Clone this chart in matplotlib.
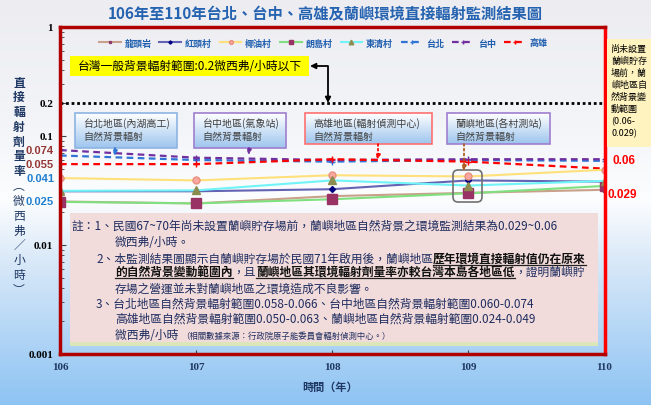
import numpy as np
import matplotlib
matplotlib.use('Agg')
import matplotlib.pyplot as plt
from matplotlib.patches import Rectangle, FancyBboxPatch
from matplotlib.colors import to_rgb

plt.rcParams['font.family'] = ['Noto Sans CJK TC', 'DejaVu Sans']

# ---- data ----
years = [106, 107, 108, 109, 110]
longtouyan = [0.025, 0.024, 0.028, 0.030, 0.032]
hongtou = [0.031, 0.031, 0.0324, 0.039, 0.038]
yeyou = [0.041, 0.039, 0.0435, 0.0424, 0.0488]
langdao = [0.0248, 0.024, 0.0262, 0.0297, 0.0347]
dongqing = [0.0313, 0.0316, 0.039, 0.035, 0.0386]
taipei = [0.066, 0.060, 0.058, 0.060, 0.059]
taichung = [0.074, 0.063, 0.060, 0.061, 0.061]
kaohsiung = [0.055, 0.055, 0.061, 0.058, 0.050]
village_names = ['龍頭岩', '紅頭村', '椰油村', '朗島村', '東清村']
city_names = ['台北', '台中', '高雄']
y_ticks = [0.001, 0.01, 0.1, 0.2, 1]
y_ticklabels = ['0.001', '0.01', '0.1', '0.2', '1']
range_marks = [0.074, 0.055, 0.041, 0.025]
range_labels = ['0.074', '0.055', '0.041', '0.025']
lanyu_range = [0.06, 0.029]
lanyu_labels = ['0.06', '0.029']
bg_level = 0.2

W, H = 651, 406
fig = plt.figure(figsize=(W / 100, H / 100), dpi=100)


def vgrad(stops, colors, n):
    ys = np.arange(n)
    rgb = np.array([to_rgb(c) for c in colors])
    g = np.zeros((n, 1, 3))
    for k in range(3):
        g[:, 0, k] = np.interp(ys, stops, rgb[:, k])
    return g


# background gradient (pixel coords, y down)
bg = fig.add_axes([0, 0, 1, 1], zorder=0)
bg.set_autoscale_on(False)
bg.set_xlim(0, W)
bg.set_ylim(H, 0)
bg.axis('off')
bg.imshow(vgrad([0, 120, 200, 260, H], ['#ECECF1', '#F3F4F8', '#FCFDFE', '#DAE9F8', '#8DC3F3'], H),
          extent=[0, W, H, 0], aspect='auto')

# ---- main chart ----
ax = fig.add_axes([60 / W, 1 - 355 / H, 544.5 / W, 327.3 / H], zorder=1)
ax.patch.set_alpha(0)
ax.set_yscale('log')

ref_style = dict(ls=(0, (3, 2)), lw=1.6, marker='+', ms=4)
h_tp, = ax.plot(years, taipei, color='#2E75D6', label=city_names[0], **ref_style)
h_tc, = ax.plot(years, taichung, color='#7030A0', label=city_names[1], **ref_style)
h_ks, = ax.plot(years, kaohsiung, color='#FF0000', label=city_names[2], **ref_style)

h1, = ax.plot(years, longtouyan, color='#C9A08A', lw=1.5, marker='s', ms=2.5,
              mfc='#8B3A6A', mec='#8B3A6A', label=village_names[0])
h2, = ax.plot(years, hongtou, color='#6464B4', lw=1.5, marker='D', ms=3,
              mfc='#000080', mec='#000080', label=village_names[1])
h3, = ax.plot(years, yeyou, color='#FFE07A', lw=1.5, marker='o', ms=5,
              mfc='#F8A8A0', mec='#E89080', label=village_names[2])
h4, = ax.plot(years, langdao, color='#80E080', lw=1.5, marker='s', ms=6.5,
              mfc='#993366', mec='#993366', label=village_names[3])
h5, = ax.plot(years, dongqing, color='#70F4F8', lw=1.5, marker='^', ms=6,
              mfc='#8C8C50', mec='#8C8C50', label=village_names[4])

ax.axhline(bg_level, color='black', ls=(0, (1, 1)), lw=2)

ax.set_xlim(106, 110)
ax.set_ylim(0.001, 1)
for side in ['left', 'top', 'bottom']:
    ax.spines[side].set_color('#B00000')
    ax.spines[side].set_linewidth(2.5)
ax.spines['right'].set_color('#FF0000')
ax.spines['right'].set_linewidth(2.5)

ax.set_xticks(years)
ax.set_xticklabels([str(y) for y in years], fontfamily='Liberation Serif',
                   fontweight='bold', fontsize=8, color='#1F3864')
ax.tick_params(axis='x', direction='in', length=3, color='#404040', pad=6)
ax.set_yticks(y_ticks)
ax.set_yticklabels(y_ticklabels, fontfamily='Liberation Serif', fontweight='bold',
                   fontsize=8, color='black')
ax.yaxis.set_minor_locator(matplotlib.ticker.LogLocator(base=10, subs=np.arange(2, 10) * 1.0))
ax.yaxis.set_minor_formatter(matplotlib.ticker.NullFormatter())
ax.tick_params(axis='y', which='both', direction='in', color='#404040', pad=5)
ax.tick_params(axis='y', which='major', length=4)
ax.tick_params(axis='y', which='minor', length=3)

ytr = ax.get_yaxis_transform()
for v, lab, c in zip(range_marks, range_labels, ['#953735', '#953735', '#1F7FD0', '#1F7FD0']):
    ax.text(-0.011, v, lab, transform=ytr, ha='right', va='center', fontsize=8,
            fontweight='bold', fontfamily='Liberation Sans', color=c)
for v, lab, dx in zip(lanyu_range, lanyu_labels, [0.014, 0.006]):
    ax.text(1 + dx, v, lab, transform=ytr, ha='left', va='center', fontsize=8.5,
            fontweight='bold', fontfamily='Liberation Sans', color='#FF0000', clip_on=False)

fig.legend([h1, h2, h3, h4, h5, h_tp, h_tc, h_ks],
           village_names + city_names, loc='center', bbox_to_anchor=(323 / W, 1 - 44 / H),
           ncol=8, frameon=False, prop={'size': 6.5, 'weight': 'bold'}, labelcolor='#1F5FAF',
           handlelength=2.4, columnspacing=0.9, handletextpad=0.4, markerscale=0.55)

# ---- overlay for boxes and notes (pixel coords) ----
ov = fig.add_axes([0, 0, 1, 1], zorder=3)
ov.set_autoscale_on(False)
ov.set_xlim(0, W)
ov.set_ylim(H, 0)
ov.axis('off')

ov.text(325, 14, '106年至110年台北、台中、高雄及蘭嶼環境直接輻射監測結果圖', ha='center',
        va='center', fontsize=11, fontweight='bold', color='#2563B0')

# y label, stacked
ylab = list('直接輻射劑量率') + list('︵微西弗／小時︶')
for i, ch in enumerate(ylab):
    ov.text(19, 83 + i * 14.8, ch, ha='center', va='center', fontsize=8.5,
            fontweight='bold' if i < 7 else 'normal', color='#1F3864')
ov.text(330, 387, '時間（年）', ha='center', va='center', fontsize=8, fontweight='bold',
        color='#1F3864')

# yellow banner + elbow arrow to the 0.2 line
ov.add_patch(Rectangle((70, 57), 239, 20, fc='#FFFF00', ec='none'))
ov.text(78, 67, '台灣一般背景輻射範圍:0.2微西弗/小時以下', va='center', fontsize=8.5, color='black')
ov.annotate('', xy=(310, 67), xytext=(328, 104),
            arrowprops=dict(arrowstyle='<|-|>', connectionstyle='angle,angleA=90,angleB=0,rad=0',
                            color='black', lw=1.3, mutation_scale=8, shrinkA=0, shrinkB=0))

# callout boxes
callouts = [
    ((75, 114, 177, 149), '#8DB4E2', '台北地區(內湖高工)', (115, 149, 157), '#2E75D6'),
    ((194, 114, 286, 149), '#9F7FCF', '台中地區(氣象站)', (249, 149, 156), '#7030A0'),
    ((305, 114, 432, 145), '#FF7070', '高雄地區(輻射偵測中心)', (378, 145, 161), '#FF0000'),
    ((447, 114, 550, 145), '#9F7FCF', '蘭嶼地區(各村測站)', (464, 145, 172), '#B05A20'),
]
for (x0, y0, x1, y1), ec, t1, (axx, ay0, ay1), ac in callouts:
    ov.imshow(vgrad([0, 50], ['#FFFFFF', '#9CC4EE'], 50), extent=[x0, x1, y1, y0],
              aspect='auto', zorder=2)
    ov.add_patch(Rectangle((x0, y0), x1 - x0, y1 - y0, fc='none', ec=ec, lw=1.2, zorder=3))
    ov.text(x0 + 8, y0 + 9.5, t1, va='center', fontsize=7.2, color='#404040', zorder=4)
    ov.text(x0 + 8, y0 + 22.5, '自然背景輻射', va='center', fontsize=7.2, color='#404040', zorder=4)
    ov.annotate('', xy=(axx, ay1), xytext=(axx, ay0),
                arrowprops=dict(arrowstyle='-|>', ls=':', color=ac, lw=1.3,
                                mutation_scale=7, shrinkA=0, shrinkB=0))

ov.add_patch(FancyBboxPatch((453, 171), 29, 32, boxstyle='round,pad=0,rounding_size=5',
                            fc='none', ec='#707070', lw=1.2))

# right yellow panel
ov.add_patch(Rectangle((607, 40), 44, 108, fc='#FFF3BF', ec='none'))
panel = ['尚未設置', '蘭嶼貯存', '場前，蘭', '嶼地區自', '然背景變', '動範圍', '(0.06-', '0.029)']
for i, s in enumerate(panel):
    ov.text(611, 49 + i * 12.1, s, va='center', fontsize=6.5, color='black')

# notes box
ov.add_patch(Rectangle((70, 214), 528, 129, fc='#F2DCDB', ec='none'))
ov.add_patch(Rectangle((70, 343), 528, 4, fc='#DCE6B8', ec='none'))

renderer = fig.canvas.get_renderer()
navy = '#1F2D60'


def runs(x, y, parts, size=8.5):
    for s, strong, ul in parts:
        t = ov.text(x, y, s, va='baseline', ha='left', fontsize=size if strong != 'small' else 6,
                    fontweight='bold' if strong is True else 'normal',
                    color='#111111' if strong is True else navy)
        w = t.get_window_extent(renderer).width
        if ul:
            ov.plot([x, x + w], [y + 2.5, y + 2.5], color='#222222', lw=0.9)
        x += w


runs(72, 230, [('註：1、民國67~70年尚未設置蘭嶼貯存場前，蘭嶼地區自然背景之環境監測結果為0.029~0.06', False, False)])
runs(115, 246, [('微西弗/小時。', False, False)])
runs(96, 263, [('2、本監測結果圖顯示自蘭嶼貯存場於民國71年啟用後，蘭嶼地區', False, False),
               ('歷年環境直接輻射值仍在原來', True, True)])
runs(115, 276, [('的自然背景變動範圍內', True, True), ('，且', False, False),
                ('蘭嶼地區其環境輻射劑量率亦較台灣本島各地區低', True, True),
                ('，證明蘭嶼貯', False, False)])
runs(115, 293, [('存場之營運並未對蘭嶼地區之環境造成不良影響。', False, False)])
runs(96, 308, [('3、台北地區自然背景輻射範圍0.058-0.066、台中地區自然背景輻射範圍0.060-0.074', False, False)])
runs(115, 323, [('高雄地區自然背景輻射範圍0.050-0.063、蘭嶼地區自然背景輻射範圍0.024-0.049', False, False)])
runs(115, 339, [('微西弗/小時 ', False, False),
                ('（相關數據來源：行政院原子能委員會輻射偵測中心。）', 'small', False)])

fig.savefig('out.png', dpi=100)
